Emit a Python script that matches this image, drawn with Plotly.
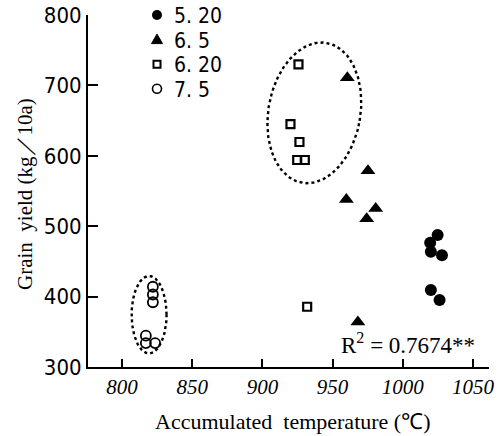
import numpy as np
import plotly.graph_objects as go

# ---- data ----
s520_x = [1024.8, 1019.5, 1020.0, 1027.9, 1020.0, 1026.2]
s520_y = [487.5, 476.6, 463.8, 458.6, 409.4, 395.2]
s65_x = [960.5, 975.2, 959.8, 980.7, 974.3, 968.0]
s65_y = [711.0, 578.8, 538.0, 525.0, 510.7, 364.0]
s620_x = [925.7, 920.0, 926.4, 924.8, 930.2, 931.9]
s620_y = [730.0, 645.0, 619.6, 594.0, 594.0, 385.6]
s75_x = [822.0, 822.0, 822.0, 817.0, 817.0, 823.6]
s75_y = [414.0, 403.0, 392.0, 344.5, 334.0, 334.0]
names = ["5. 20", "6. 5", "6. 20", "7. 5"]
x_ticks = [800, 850, 900, 950, 1000, 1050]
y_ticks = [300, 400, 500, 600, 700, 800]
x_range = [775.8, 1061.4]
y_range = [300, 800]

W, H = 502, 436
M = dict(l=88, r=13, t=15, b=69)
pw = W - M["l"] - M["r"]
ph = H - M["t"] - M["b"]
sx = pw / (x_range[1] - x_range[0])
sy = ph / (y_range[1] - y_range[0])

def px2paper(px, py):
    return (px - M["l"]) / pw, (H - M["b"] - py) / ph

def ellipse(cx, cy, a_px, b_px, tilt_deg):
    # a_px: vertical semi-axis (pixels), b_px: horizontal semi-axis, tilt from vertical
    t = np.linspace(0, 2 * np.pi, 200)
    th = np.radians(tilt_deg)
    ux = b_px * np.cos(t)
    uy = a_px * np.sin(t)
    rx = ux * np.cos(th) + uy * np.sin(th)
    ry = -ux * np.sin(th) + uy * np.cos(th)
    return cx + rx / sx, cy + ry / sy

fig = go.Figure()
fnt = "Liberation Serif"
sans = "DejaVu Sans Condensed, Liberation Serif"
BLK = "#000000"

fig.add_trace(go.Scatter(x=s520_x, y=s520_y, mode="markers", name=names[0], showlegend=False,
    marker=dict(symbol="circle", size=12, color=BLK)))
fig.add_trace(go.Scatter(x=s65_x, y=s65_y, mode="markers", name=names[1], showlegend=False,
    marker=dict(symbol="triangle-up", size=13, color=BLK)))
fig.add_trace(go.Scatter(x=s620_x, y=s620_y, mode="markers", name=names[2], showlegend=False,
    marker=dict(symbol="square-open", size=8, color=BLK, line=dict(width=2.2))))
fig.add_trace(go.Scatter(x=s75_x, y=s75_y, mode="markers", name=names[3], showlegend=False,
    marker=dict(symbol="circle-open", size=10, color=BLK, line=dict(width=1.8))))

# dotted ellipses
ex, ey = ellipse(937.0, 661.0, 71, 46, 10)
fig.add_trace(go.Scatter(x=ex, y=ey, mode="lines", showlegend=False, hoverinfo="skip",
    line=dict(color=BLK, width=2.4, dash="dot")))
ex2, ey2 = ellipse(819.3, 374.3, 38.7, 17.5, 0)
fig.add_trace(go.Scatter(x=ex2, y=ey2, mode="lines", showlegend=False, hoverinfo="skip",
    line=dict(color=BLK, width=2.4, dash="dot")))

# ---- manual legend (symbols as pixel-sized shapes, labels as text) ----
leg_x, leg_y0, leg_dy = 157, 15, 24.6
shapes = []
annotations = []
for i, nm in enumerate(names):
    ax, ay = px2paper(leg_x, leg_y0 + i * leg_dy)
    common = dict(xref="paper", yref="paper", xsizemode="pixel", ysizemode="pixel",
                  xanchor=ax, yanchor=ay, layer="above")
    if i == 0:
        shapes.append(dict(type="circle", x0=-5, x1=5, y0=-5, y1=5,
                           fillcolor=BLK, line=dict(color=BLK, width=0), **common))
    elif i == 1:
        shapes.append(dict(type="path", path="M -5.5,-4 L 5.5,-4 L 0,5.5 Z",
                           fillcolor=BLK, line=dict(color=BLK, width=1), **common))
    elif i == 2:
        shapes.append(dict(type="rect", x0=-3.5, x1=3.5, y0=-3.5, y1=3.5,
                           fillcolor="white", line=dict(color=BLK, width=2), **common))
    else:
        shapes.append(dict(type="circle", x0=-4.5, x1=4.5, y0=-4.5, y1=4.5,
                           fillcolor="white", line=dict(color=BLK, width=1.6), **common))
    tx, ty = px2paper(leg_x + 15, leg_y0 + i * leg_dy + 1)
    annotations.append(dict(text=nm, x=tx, y=ty, xref="paper", yref="paper",
                            xanchor="left", yanchor="middle", showarrow=False,
                            font=dict(family=sans, size=21, color=BLK)))

rx, ry = px2paper(477, 343)
annotations.append(dict(text="R<sup>2</sup> = 0.7674**", x=rx, y=ry, xref="paper", yref="paper",
                        xanchor="right", yanchor="middle", showarrow=False,
                        font=dict(family=fnt, size=23, color=BLK)))
xtx, xty = px2paper(292, 421)
annotations.append(dict(text="Accumulated  temperature (℃)", x=xtx, y=xty, xref="paper",
                        yref="paper", xanchor="center", yanchor="middle", showarrow=False,
                        font=dict(family=fnt, size=22, color=BLK)))
ytx, yty = px2paper(25, 194)
annotations.append(dict(text="Grain  yield (kg／10a)", textangle=-90, x=ytx, y=yty,
                        xref="paper", yref="paper", xanchor="center", yanchor="middle",
                        showarrow=False, font=dict(family=fnt, size=21, color=BLK)))

fig.update_layout(
    template="none",
    width=W, height=H, margin=M,
    paper_bgcolor="white", plot_bgcolor="white",
    font=dict(family=fnt, color=BLK),
    showlegend=False,
    xaxis=dict(range=x_range, tickvals=x_ticks, showgrid=False, zeroline=False,
               automargin=False,
               showline=True, linecolor=BLK, linewidth=2,
               ticks="inside", ticklen=8, tickwidth=2, tickcolor=BLK,
               tickfont=dict(family=fnt, size=21, style="italic", color=BLK)),
    yaxis=dict(range=y_range, tickvals=y_ticks, showgrid=False, zeroline=False,
               automargin=False,
               showline=True, linecolor=BLK, linewidth=2,
               ticks="inside", ticklen=10, tickwidth=2, tickcolor=BLK,
               tickfont=dict(family=sans, size=22, color=BLK)),
    shapes=shapes,
    annotations=annotations,
)

fig.write_html("out.html")
